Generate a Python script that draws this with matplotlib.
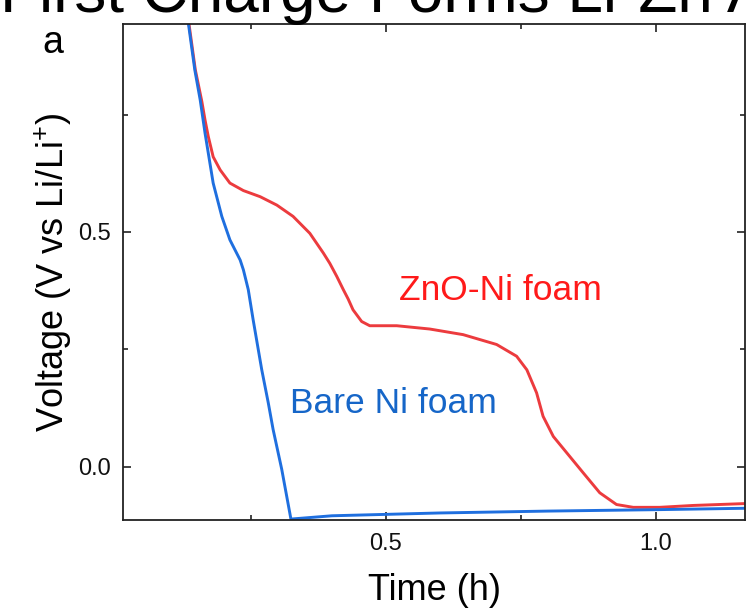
import matplotlib
matplotlib.use("Agg")
import matplotlib.pyplot as plt
from matplotlib.ticker import MultipleLocator

plt.rcParams['font.family'] = ['Liberation Sans', 'DejaVu Sans']
plt.rcParams['mathtext.fontset'] = 'custom'
plt.rcParams['mathtext.rm'] = 'Liberation Sans'
plt.rcParams['mathtext.default'] = 'regular'

# ZnO-Ni foam (red)
t_zno = [0.135, 0.147, 0.159, 0.165, 0.171, 0.180, 0.193, 0.211, 0.236, 0.267, 0.298,
         0.328, 0.359, 0.384, 0.396, 0.409, 0.421, 0.430, 0.439, 0.455, 0.470, 0.520,
         0.581, 0.643, 0.705, 0.742, 0.761, 0.779, 0.791, 0.810, 0.835, 0.865, 0.896,
         0.927, 0.958, 1.007, 1.069, 1.165]
v_zno = [0.945, 0.845, 0.778, 0.738, 0.703, 0.660, 0.632, 0.604, 0.588, 0.575, 0.557,
         0.533, 0.497, 0.455, 0.433, 0.405, 0.377, 0.357, 0.334, 0.309, 0.300, 0.300,
         0.293, 0.281, 0.260, 0.235, 0.206, 0.157, 0.107, 0.064, 0.029, -0.013, -0.056,
         -0.081, -0.087, -0.087, -0.083, -0.079]

# Bare Ni foam (blue)
t_bare = [0.134, 0.146, 0.156, 0.165, 0.180, 0.196, 0.211, 0.230, 0.236, 0.245, 0.254,
          0.270, 0.282, 0.291, 0.307, 0.324, 0.40, 0.60, 0.80, 1.00, 1.165]
v_bare = [0.945, 0.845, 0.781, 0.710, 0.604, 0.533, 0.483, 0.440, 0.419, 0.377, 0.313,
          0.206, 0.136, 0.079, -0.006, -0.112, -0.105, -0.099, -0.095, -0.092, -0.089]

x_ticks = [0.5, 1.0]
y_ticks = [0.0, 0.5]

fig = plt.figure(figsize=(7.49, 6.08), dpi=100)
ax = fig.add_axes([123/749, 88/608, (745-123)/749, (520-24)/608])

ax.plot(t_zno, v_zno, color='#EC3B3E', lw=2.1, solid_capstyle='round', solid_joinstyle='round')
ax.plot(t_bare, v_bare, color='#1F6FDF', lw=2.1, solid_capstyle='round', solid_joinstyle='round')

ax.set_xlim(0.013, 1.165)
ax.set_ylim(-0.114, 0.943)
ax.set_xticks(x_ticks)
ax.set_yticks(y_ticks)
ax.set_xticklabels(['0.5', '1.0'])
ax.set_yticklabels(['0.0', '0.5'])
ax.xaxis.set_minor_locator(MultipleLocator(0.25))
ax.yaxis.set_minor_locator(MultipleLocator(0.25))
ax.tick_params(which='both', direction='in', top=True, right=True, width=1.2, colors='#222222')
ax.tick_params(which='major', length=6, labelsize=17, pad=9, labelcolor='#111111')
ax.tick_params(which='minor', length=3.5)
for s in ax.spines.values():
    s.set_linewidth(1.3)
    s.set_color('#222222')

ax.set_xlabel('Time (h)', fontsize=26, labelpad=13)
ax.set_ylabel('Voltage (V vs Li/Li$^{+}$)', fontsize=26, labelpad=3)

ax.text(0.5233, 0.355, 'ZnO-Ni foam', color='#FF1A1A', fontsize=25.5, ha='left', va='baseline')
ax.text(0.322, 0.115, 'Bare Ni foam', color='#1666C8', fontsize=25.5, ha='left', va='baseline')

fig.text(42/749, 1 - 53/608, 'a', fontsize=27, ha='left', va='baseline')
fig.text(0.0, 1 - 12/608, 'First Charge Forms Li-Zn Alloy', fontsize=46, ha='left', va='baseline')

fig.savefig('out.png', dpi=100)
